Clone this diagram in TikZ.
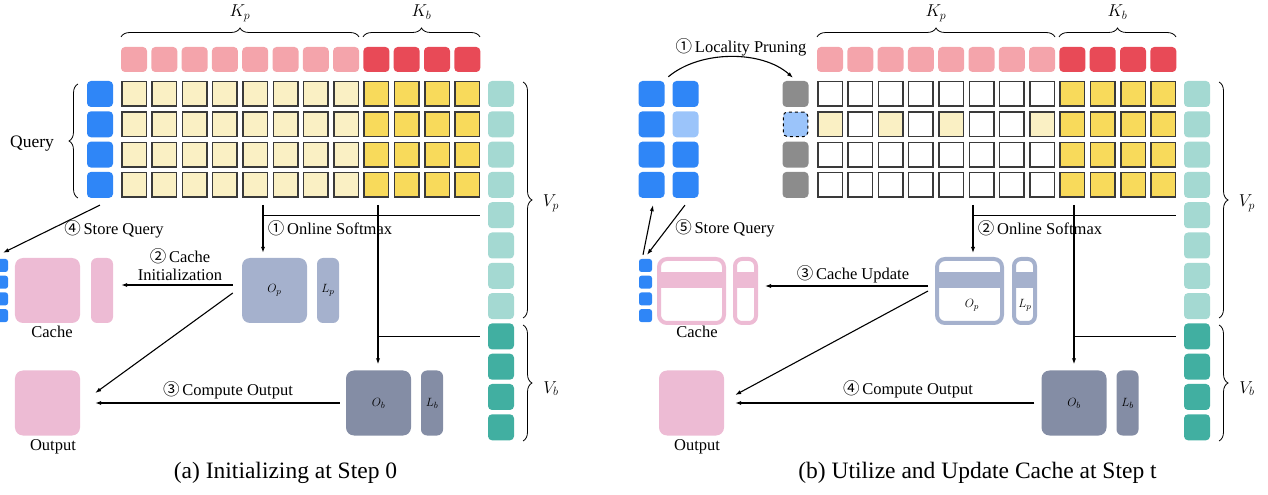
\documentclass[tikz,border=0pt]{standalone}
\usepackage{fontspec}
\setmainfont{Liberation Serif}
\newfontfamily\cjkf{Noto Sans CJK SC}
\usetikzlibrary{calc,decorations.pathreplacing,arrows.meta}
\definecolor{kp}{HTML}{F4A4AB}
\definecolor{kb}{HTML}{E84A57}
\definecolor{ylt}{HTML}{FAF0C4}
\definecolor{ydk}{HTML}{F8DA5B}
\definecolor{qblue}{HTML}{2F86F7}
\definecolor{qlt}{HTML}{9BC4FA}
\definecolor{gry}{HTML}{8C8C8C}
\definecolor{vp}{HTML}{A4D9D2}
\definecolor{vb}{HTML}{41AFA1}
\definecolor{opc}{HTML}{A5B1CD}
\definecolor{obc}{HTML}{848DA5}
\definecolor{cpink}{HTML}{EDBBD4}
\definecolor{cellline}{HTML}{3A3A3A}
\begin{document}
\begin{tikzpicture}[x=1bp,y=-1bp,
  tok/.style={rectangle, rounded corners=4bp, minimum width=26bp, minimum height=26bp, inner sep=0pt},
  mini/.style={rectangle, rounded corners=2.5bp, minimum width=13bp, minimum height=13bp, inner sep=0pt, fill=qblue},
  cell/.style={rectangle, minimum size=24.5bp, inner sep=0pt, draw=cellline, line width=1.5bp},
  big/.style={rectangle, rounded corners=8bp, minimum width=65bp, minimum height=65bp, inner sep=0pt},
  slim/.style={rectangle, rounded corners=6bp, minimum width=22bp, minimum height=65bp, inner sep=0pt},
  frame/.style={rectangle, draw, line width=4bp, fill=white, rounded corners=8bp, minimum width=65bp, minimum height=64bp, inner sep=0pt},
  sframe/.style={frame, minimum width=21bp, rounded corners=7bp},
  ln/.style={line width=1.1bp},
  arr/.style={line width=1.1bp, -{Latex[length=6bp,width=4.2bp]}},
  brc/.style={decorate, decoration={brace, amplitude=9bp}, line width=0.8bp},
  lbl/.style={font=\fontsize{16.5bp}{19bp}\selectfont, inner sep=0pt, anchor=base},
  mlbl/.style={font=\fontsize{18bp}{20bp}\selectfont, inner sep=0pt, anchor=base},
  blbl/.style={font=\fontsize{13bp}{15bp}\selectfont, inner sep=0pt},
  captxt/.style={font=\fontsize{23.5bp}{26bp}\selectfont, inner sep=0pt, anchor=base}
]
\useasboundingbox (0,0) rectangle (1268,495);

% ---------- shared parts of both panels ----------
\foreach \P/\ox in {L/0,R/696}{
  \foreach \i in {0,...,11}{
    \ifnum\i>7 \def\kc{kb}\else\def\kc{kp}\fi
    \node[tok, minimum height=25bp, fill=\kc] (k\P\i) at (134+30.3*\i+\ox, 59.5) {};
  }
  \foreach \k in {0,...,11}{
    \ifnum\k>7 \def\vc{vb}\else\def\vc{vp}\fi
    \node[tok, fill=\vc] (v\P\k) at (501+\ox, 94+30.3*\k) {};
  }
  \draw[brc] (121+\ox,37) -- (359+\ox,37);
  \draw[brc] (363+\ox,37) -- (480+\ox,37);
  \draw[brc] (523+\ox,82) -- (523+\ox,318);
  \draw[brc] (523+\ox,325) -- (523+\ox,441);
  \node[mlbl] (kpl\P) at (240+\ox,17) {$K_p$};
  \node[mlbl] (kbl\P) at (421.5+\ox,17) {$K_b$};
  \node[mlbl] (vpl\P) at (551+\ox,207) {$V_p$};
  \node[mlbl] (vbl\P) at (551+\ox,393) {$V_b$};
}

% ---------- left panel ----------
\foreach \i in {0,...,11}{\foreach \j in {0,...,3}{
  \ifnum\i>7 \def\cf{ydk}\else\def\cf{ylt}\fi
  \node[cell, fill=\cf] (gL\i-\j) at (134+30.3*\i, 94+30.3*\j) {};
}}
\foreach \j in {0,...,3}{
  \node[tok, fill=qblue] (qL\j) at (100, 94+30.3*\j) {};
  \node[mini] (cbL\j) at (1.5, 265.5+16.7*\j) {};
}
\draw[brc] (78,198) -- (78,84);
\node[lbl, font=\fontsize{17.5bp}{19bp}\selectfont] (query) at (32,148) {Query};

\node[big, fill=cpink] (cacheL) at (47.5,290.5) {};
\node[slim, fill=cpink] (cacheLs) at (102,290.5) {};
\node[big, fill=cpink] (outL) at (47.5,403) {};
\node[big, fill=opc] (OpL) at (274.5,290.5) {\fontsize{13bp}{15bp}\selectfont$O_p$};
\node[slim, fill=opc] (LpL) at (328,290.5) {\fontsize{13bp}{15bp}\selectfont$L_p$};
\node[big, fill=obc] (ObL) at (378.5,403) {\fontsize{13bp}{15bp}\selectfont$O_b$};
\node[slim, fill=obc] (LbL) at (432,403) {\fontsize{13bp}{15bp}\selectfont$L_b$};
\node[lbl] (cacheLlbl) at (52,338) {Cache};
\node[lbl] (outLlbl) at (53,450) {Output};

\coordinate (sL) at (263,205);
\coordinate (tL) at (378,205);
\draw[arr] (sL) -- ($(sL |- OpL.north)+(0,-5)$);
\draw[ln] ($(vL4.west)+(-8,0)$) -- (vL4 -| sL);
\draw[arr] (tL) -- ($(tL |- ObL.north)+(0,-6)$);
\draw[ln] ($(vL8.west)+(-8,0)$) -- (vL8 -| tL);
\node[lbl] (osL) at (330,235) {{\cjkf ①}\,Online Softmax};

\draw[arr] ($(OpL.west)+(-9,-5.5)$) -- ($(cacheLs.east)+(8,-5.5)$);
\node[lbl] (ci1) at (180,263) {{\cjkf ②}\,Cache};
\node[lbl] (ci2) at (180,281) {Initialization};
\draw[arr] ($(OpL.west)+(-9,2.5)$) -- ($(outL.east)+(15,-10)$);
\draw[arr] ($(ObL.west)+(-6,0)$) -- ($(outL.east)+(15,0)$);
\node[lbl] (coL) at (228,395) {{\cjkf ③}\,Compute Output};
\draw[arr] ($(qL3.south)+(0,7)$) -- ($(cbL0.north)+(1.5,-6)$);
\node[lbl] (sqL) at (114,235) {{\cjkf ④}\,Store Query};

\node[captxt] (capL) at (285.5,478) {(a) Initializing at Step 0};

% ---------- right panel ----------
\foreach \i in {0,...,11}{\foreach \j in {0,...,3}{
  \pgfmathtruncatemacro\yl{(\j==1)*((\i==0)+(\i==2)+(\i==4)+(\i==7))}
  \ifnum\i>7 \def\cf{ydk}\else\ifnum\yl>0 \def\cf{ylt}\else\def\cf{white}\fi\fi
  \node[cell, fill=\cf] (gR\i-\j) at (830+30.3*\i, 94+30.3*\j) {};
}}
\foreach \j in {0,...,3}{
  \node[tok, fill=qblue] (qA\j) at (651.5, 94+30.3*\j) {};
  \node[mini] (cbR\j) at (645.5, 265.5+16.7*\j) {};
}
\foreach \j in {0,2,3}{
  \node[tok, fill=qblue] (qB\j) at (685.5, 94+30.3*\j) {};
  \node[tok, fill=gry] (g\j) at (795.5, 94+30.3*\j) {};
}
\node[tok, fill=qlt] (qB1) at (685.5, 124.3) {};
\node[tok, fill=qlt, draw=black, dashed, line width=1bp, minimum size=24.5bp] (g1) at (795.5, 124.3) {};

\node[frame, draw=cpink] (cacheR) at (691.5,291) {};
\fill[cpink] ($(cacheR.center)+(-32.5,-19)$) rectangle ($(cacheR.center)+(32.5,-3)$);
\node[sframe, draw=cpink] (cacheRs) at (745.5,291) {};
\fill[cpink] ($(cacheRs.center)+(-10.5,-19)$) rectangle ($(cacheRs.center)+(10.5,-3)$);
\node[big, fill=cpink] (outR) at (691.5,403) {};
\node[frame, draw=opc] (OpR) at (969.5,291) {};
\fill[opc] ($(OpR.center)+(-32.5,-19)$) rectangle ($(OpR.center)+(32.5,-3)$);
\node[sframe, draw=opc] (LpR) at (1024.5,291) {};
\fill[opc] ($(LpR.center)+(-10.5,-19)$) rectangle ($(LpR.center)+(10.5,-3)$);
\node[blbl] (OpRl) at (972,305) {$O_p$};
\node[blbl] (LpRl) at (1025,305) {$L_p$};
\node[big, fill=obc] (ObR) at (1074,403) {\fontsize{13bp}{15bp}\selectfont$O_b$};
\node[slim, fill=obc] (LbR) at (1127.5,403) {\fontsize{13bp}{15bp}\selectfont$L_b$};
\node[lbl] (cacheRlbl) at (697,338) {Cache};
\node[lbl] (outRlbl) at (697,450) {Output};

\draw[arr] ($(qB0.north west)+(-4,-4)$) .. controls (700,50) and (762,50) .. ($(g0.north)+(-2.5,-3)$);
\node[lbl] (lp) at (741,53) {{\cjkf ①}\,Locality Pruning};

\coordinate (sR) at (973,205);
\coordinate (tR) at (1074,205);
\draw[arr] (sR) -- ($(sR |- OpR.north)+(0,-4)$);
\draw[ln] ($(vR4.west)+(-8,0)$) -- (vR4 -| sR);
\draw[arr] (tR) -- ($(tR |- ObR.north)+(0,-6)$);
\draw[ln] ($(vR8.west)+(-8,0)$) -- (vR8 -| tR);
\node[lbl] (osR) at (1040,235) {{\cjkf ②}\,Online Softmax};

\draw[arr] ($(OpR.west)+(-7,-5)$) -- ($(cacheRs.east)+(7,-5)$);
\node[lbl] (cu) at (853,280) {{\cjkf ③}\,Cache Update};
\draw[arr] ($(OpR.west)+(-7,0)$) -- ($(outR.east)+(11,-8)$);
\draw[arr] ($(ObR.west)+(-7,0)$) -- ($(outR.east)+(11,0)$);
\node[lbl] (coR) at (908,394) {{\cjkf ④}\,Compute Output};
\draw[arr] ($(qB3.south)+(-0.5,7)$) -- ($(cbR0.north)+(1.5,-4)$);
\draw[arr] ($(cbR0.north)+(-2.5,-4)$) -- ($(qA3.south)+(1.5,7)$);
\node[lbl] (sqR) at (725,234) {{\cjkf ⑤}\,Store Query};

\node[captxt] (capR) at (977.5,478) {(b) Utilize and Update Cache at Step t};
\end{tikzpicture}
\end{document}
